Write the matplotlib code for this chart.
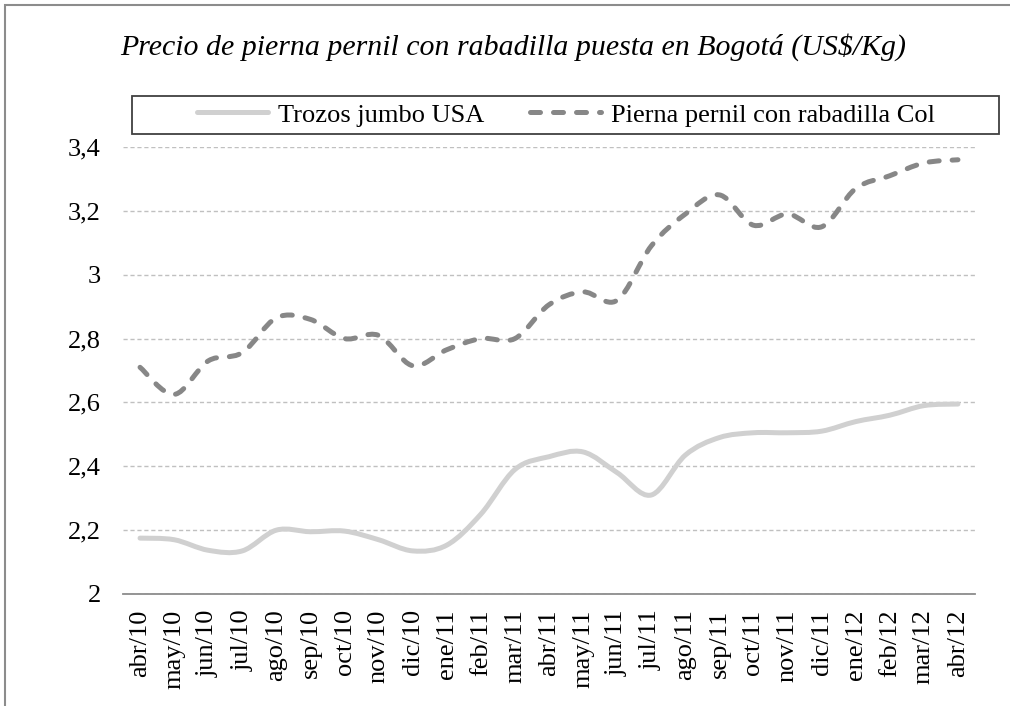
import matplotlib
matplotlib.use('Agg')
import matplotlib.pyplot as plt
from matplotlib.path import Path
from matplotlib.patches import PathPatch, Rectangle
from matplotlib.lines import Line2D

meses = ['abr/10', 'may/10', 'jun/10', 'jul/10', 'ago/10', 'sep/10', 'oct/10',
         'nov/10', 'dic/10', 'ene/11', 'feb/11', 'mar/11', 'abr/11', 'may/11',
         'jun/11', 'jul/11', 'ago/11', 'sep/11', 'oct/11', 'nov/11', 'dic/11',
         'ene/12', 'feb/12', 'mar/12', 'abr/12']

trozos_usa = [2.175, 2.17, 2.137, 2.135, 2.20, 2.195, 2.197, 2.17, 2.135, 2.153,
              2.25, 2.39, 2.43, 2.445, 2.38, 2.31, 2.435, 2.49, 2.505, 2.505,
              2.51, 2.54, 2.56, 2.59, 2.595]

pierna_col = [2.71, 2.625, 2.73, 2.756, 2.865, 2.86, 2.80, 2.81, 2.715, 2.765,
              2.80, 2.80, 2.906, 2.946, 2.92, 3.09, 3.19, 3.25, 3.155, 3.19,
              3.15, 3.27, 3.31, 3.35, 3.36]

titulo = 'Precio de pierna pernil con rabadilla puesta en Bogotá (US$/Kg)'
yticks = [2, 2.2, 2.4, 2.6, 2.8, 3, 3.2, 3.4]

plt.rcParams['font.family'] = ['Liberation Serif', 'DejaVu Serif']


def smooth_path(xs, ys):
    # curva suavizada tipo Excel (Catmull-Rom como Bezier cubica)
    verts = [(xs[0], ys[0])]
    codes = [Path.MOVETO]
    n = len(xs)
    for i in range(n - 1):
        p0 = (xs[max(i - 1, 0)], ys[max(i - 1, 0)])
        p1 = (xs[i], ys[i])
        p2 = (xs[i + 1], ys[i + 1])
        p3 = (xs[min(i + 2, n - 1)], ys[min(i + 2, n - 1)])
        c1 = (p1[0] + (p2[0] - p0[0]) / 6, p1[1] + (p2[1] - p0[1]) / 6)
        c2 = (p2[0] - (p3[0] - p1[0]) / 6, p2[1] - (p3[1] - p1[1]) / 6)
        verts += [c1, c2, p2]
        codes += [Path.CURVE4, Path.CURVE4, Path.CURVE4]
    return Path(verts, codes)


def plot_chart():
    fig = plt.figure(figsize=(10.1, 7.06), dpi=100)
    W, H = 1010, 706
    ax = fig.add_axes([123 / W, 1 - 594 / H, 852 / W, 447 / H])

    x = list(range(len(meses)))
    color_usa = '#d0d0d0'
    color_col = '#878787'

    p1 = PathPatch(smooth_path(x, trozos_usa), facecolor='none', edgecolor=color_usa,
                   linewidth=3.6, capstyle='round', joinstyle='round', zorder=3)
    ax.add_patch(p1)
    p2 = PathPatch(smooth_path(x, pierna_col), facecolor='none', edgecolor=color_col,
                   linewidth=3.6, linestyle=(0, (2, 2.6)), capstyle='round',
                   joinstyle='round', zorder=4)
    ax.add_patch(p2)

    ax.set_xlim(-0.5, len(meses) - 0.5)
    ax.set_ylim(2, 3.4)
    ax.set_xticks(x)
    ax.set_xticklabels(meses, rotation=90, fontsize=19)
    ax.set_yticks(yticks)
    ax.set_yticklabels([('%g' % v).replace('.', ',') for v in yticks], fontsize=19)
    ax.tick_params(axis='both', length=0)
    ax.tick_params(axis='x', pad=11)
    ax.tick_params(axis='y', pad=16)

    for s in ['top', 'right', 'left']:
        ax.spines[s].set_visible(False)
    ax.spines['bottom'].set_color('#8c8c8c')
    ax.spines['bottom'].set_linewidth(1.3)
    ax.spines['bottom'].set_zorder(5)

    ax.grid(axis='y', color='#c0c0c0', linestyle=(0, (3, 2)), linewidth=1)
    ax.set_axisbelow(True)

    fig.text(513 / W, 1 - 47 / H, titulo, fontsize=21.5, style='italic',
             ha='center', va='center')

    # caja de la leyenda
    fig.patches.append(Rectangle((132 / W, 1 - 134 / H), 867 / W, 38 / H,
                                 transform=fig.transFigure, facecolor='white',
                                 edgecolor='#404040', linewidth=1.3))
    handles = [
        Line2D([], [], color=color_usa, linewidth=3.6, solid_capstyle='round'),
        Line2D([], [], color=color_col, linewidth=3.6, linestyle=(0, (2, 2.6)),
               dash_capstyle='round'),
    ]
    fig.legend(handles, ['Trozos jumbo USA', 'Pierna pernil con rabadilla Col'],
               loc='center', bbox_to_anchor=(566 / W, 1 - 115 / H), ncol=2,
               frameon=False, fontsize=19, handlelength=2.7, handletextpad=0.4,
               columnspacing=1.7)

    # borde exterior del grafico
    fig.patches.append(Rectangle((5 / W, -0.05), 1.2, 1.05 - 5 / H,
                                 transform=fig.transFigure, facecolor='none',
                                 edgecolor='#8c8c8c', linewidth=1.5))

    fig.savefig('out.png', dpi=100)


def main():
    plot_chart()


if __name__ == "__main__":
    main()
